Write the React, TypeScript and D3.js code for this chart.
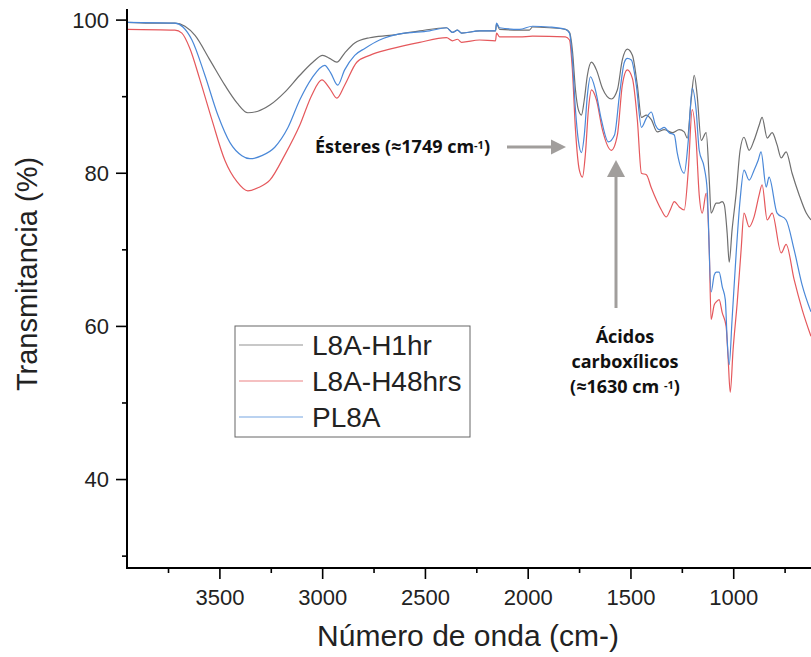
import React from "react";
import * as d3 from "d3";

// ---------- data (wavenumber cm-1, transmittance %) ----------
const L8A_H1hr: [number, number][] = [
  [3952, 99.7], [3840, 99.6], [3719, 99.6], [3670, 99.2], [3621, 98.0], [3549, 94.8], [3476, 91.5], [3417, 89.2],
  [3364, 87.9], [3315, 88.1], [3257, 88.9], [3184, 90.6], [3111, 92.8], [3048, 94.5], [3000, 95.4], [2966, 95.0],
  [2931, 94.5], [2893, 95.7], [2844, 97.0], [2771, 97.7], [2674, 98.0], [2528, 98.6], [2397, 99.0], [2368, 98.4],
  [2344, 98.7], [2324, 98.3], [2237, 98.6], [2159, 98.6], [2154, 99.5], [2139, 98.8], [2042, 98.7], [1994, 98.7],
  [1979, 99.1], [1897, 99.0], [1819, 98.8], [1799, 98.4], [1785, 96.1], [1770, 90.9], [1756, 88.3], [1741, 87.6],
  [1727, 89.6], [1712, 92.8], [1692, 94.5], [1668, 93.5], [1639, 91.1], [1595, 89.7], [1566, 90.9], [1542, 94.8],
  [1518, 96.2], [1493, 95.4], [1469, 91.5], [1449, 87.3], [1425, 87.6], [1401, 87.0], [1372, 85.4], [1338, 85.7],
  [1299, 85.3], [1265, 85.7], [1241, 85.4], [1226, 84.6], [1207, 89.6], [1192, 92.8], [1178, 90.2], [1158, 84.3],
  [1134, 85.3], [1119, 79.1], [1110, 74.8], [1085, 76.1], [1071, 76.1], [1056, 76.3], [1046, 75.9], [1032, 72.2],
  [1022, 68.4], [1008, 72.6], [988, 77.4], [969, 83.0], [950, 84.7], [925, 83.0], [901, 84.3], [876, 86.3],
  [862, 87.3], [837, 84.6], [813, 85.3], [789, 83.7], [769, 82.0], [745, 82.8], [716, 80.0], [682, 77.2],
  [647, 74.8], [624, 73.9],
];

const L8A_H48hrs: [number, number][] = [
  [3952, 98.8], [3719, 98.7], [3685, 98.3], [3646, 96.3], [3597, 92.2], [3539, 87.0], [3476, 81.7], [3417, 78.9],
  [3364, 77.7], [3315, 78.1], [3257, 79.1], [3184, 82.4], [3111, 86.3], [3053, 90.2], [3004, 92.2], [2966, 91.1],
  [2931, 89.8], [2893, 91.5], [2834, 94.5], [2771, 95.4], [2674, 96.2], [2528, 97.1], [2397, 97.7], [2368, 97.3],
  [2344, 97.5], [2324, 97.1], [2237, 97.4], [2159, 97.3], [2154, 98.3], [2139, 97.8], [2042, 97.8], [1979, 97.9],
  [1819, 97.8], [1799, 97.4], [1785, 93.5], [1770, 85.7], [1751, 80.4], [1736, 79.5], [1722, 82.4], [1707, 88.3],
  [1692, 90.9], [1668, 89.6], [1639, 85.7], [1595, 83.0], [1566, 85.0], [1542, 91.5], [1518, 93.5], [1493, 92.4],
  [1469, 87.0], [1449, 80.0], [1425, 79.8], [1401, 78.1], [1376, 76.5], [1352, 75.2], [1328, 74.3], [1309, 75.2],
  [1289, 76.3], [1265, 75.6], [1241, 75.2], [1221, 80.4], [1202, 88.3], [1183, 84.3], [1168, 77.2], [1153, 74.8],
  [1134, 77.4], [1119, 70.0], [1110, 60.9], [1095, 62.8], [1085, 63.2], [1071, 63.5], [1056, 61.8], [1037, 60.0],
  [1027, 55.7], [1017, 51.4], [1003, 57.0], [983, 63.1], [964, 70.0], [950, 74.8], [925, 73.0], [901, 74.3],
  [876, 77.2], [862, 78.5], [837, 73.9], [813, 74.8], [769, 69.6], [745, 70.7], [706, 66.1], [667, 62.2],
  [624, 58.7],
];

const PL8A: [number, number][] = [
  [3952, 99.7], [3719, 99.6], [3680, 99.1], [3636, 97.4], [3573, 92.8], [3510, 87.6], [3451, 84.0], [3393, 82.3],
  [3354, 81.9], [3296, 82.3], [3233, 83.4], [3170, 85.9], [3111, 89.6], [3053, 92.4], [2990, 94.1], [2961, 93.1],
  [2927, 91.5], [2893, 93.5], [2844, 95.4], [2795, 96.3], [2723, 97.4], [2625, 98.2], [2480, 98.6], [2397, 99.0],
  [2368, 98.4], [2344, 98.7], [2324, 98.3], [2237, 98.6], [2159, 98.6], [2154, 99.6], [2139, 99.0], [2042, 98.8],
  [1979, 99.2], [1897, 99.1], [1819, 98.8], [1799, 98.3], [1785, 94.8], [1770, 88.3], [1756, 84.3], [1741, 82.7],
  [1727, 85.0], [1712, 90.2], [1697, 92.6], [1673, 90.9], [1644, 87.0], [1610, 84.1], [1580, 85.0], [1556, 90.2],
  [1532, 94.5], [1518, 95.0], [1498, 94.8], [1474, 91.5], [1449, 86.0], [1425, 87.2], [1401, 88.0], [1381, 86.3],
  [1362, 85.7], [1338, 86.0], [1314, 85.3], [1289, 85.0], [1275, 82.7], [1241, 80.0], [1221, 84.3], [1202, 91.1],
  [1183, 88.3], [1168, 83.0], [1144, 80.8], [1129, 77.8], [1110, 64.5], [1095, 66.7], [1085, 67.1], [1071, 67.1],
  [1056, 65.2], [1041, 63.5], [1032, 58.3], [1022, 55.0], [1008, 60.9], [988, 69.6], [969, 76.5], [950, 80.4],
  [925, 79.1], [901, 80.4], [881, 81.7], [867, 82.8], [842, 78.2], [828, 79.5], [789, 74.8], [745, 73.9],
  [706, 70.0], [667, 65.4], [624, 61.9],
];

const seriesNames = ["L8A-H1hr", "L8A-H48hrs", "PL8A"];
const seriesColors = ["#6f6f6f", "#e5585c", "#4a88d8"];
const xMajorTicks = [3500, 3000, 2500, 2000, 1500, 1000];
const xMinorTicks = [3750, 3250, 2750, 2250, 1750, 1250, 750];
const yMajorTicks = [40, 60, 80, 100];
const yMinorTicks = [30, 50, 70, 90];

const W = 811;
const H = 657;
const left = 127;
const right = 811;
const top = 9;
const bottom = 568;

export default function App() {
  const x = d3.scaleLinear().domain([3952, 624]).range([left, right]);
  const y = d3.scaleLinear().domain([28.45, 101.45]).range([bottom, top]);
  const line = d3
    .line<[number, number]>()
    .x((d) => x(d[0]))
    .y((d) => y(d[1]))
    .curve(d3.curveMonotoneX);

  const allSeries = [L8A_H1hr, L8A_H48hrs, PL8A];
  const axisFont = "'Liberation Sans', Arial, sans-serif";
  const annFont = "'Open Sans', sans-serif";
  const arrowColor = "#a19e9c";

  const legendRows = [345, 381, 417];

  return (
    <svg
      width={W}
      height={H}
      viewBox={`0 0 ${W} ${H}`}
      style={{ position: "absolute", left: 0, top: 0, background: "#fff" }}
    >
      <defs>
        <clipPath id="plotClip">
          <rect x={left} y={0} width={right - left} height={bottom} />
        </clipPath>
      </defs>
      <rect x={0} y={0} width={W} height={H} fill="#fff" />

      {/* series */}
      <g clipPath="url(#plotClip)" fill="none">
        {allSeries.map((s, i) => (
          <path key={i} d={line(s) || ""} stroke={seriesColors[i]} strokeWidth={1.2} strokeLinejoin="round" />
        ))}
      </g>

      {/* axes */}
      <g stroke="#000" fill="none">
        <line x1={left} y1={top} x2={left} y2={bottom + 1} strokeWidth={2} />
        <line x1={left - 1} y1={bottom} x2={right} y2={bottom} strokeWidth={2} />
        {yMajorTicks.map((t) => (
          <line key={"ym" + t} x1={left - 11} x2={left} y1={y(t)} y2={y(t)} strokeWidth={1.6} />
        ))}
        {yMinorTicks.map((t) => (
          <line key={"yn" + t} x1={left - 5} x2={left} y1={y(t)} y2={y(t)} strokeWidth={1.6} />
        ))}
        {xMajorTicks.map((t) => (
          <line key={"xm" + t} x1={x(t)} x2={x(t)} y1={bottom} y2={bottom + 11} strokeWidth={1.6} />
        ))}
        {xMinorTicks.map((t) => (
          <line key={"xn" + t} x1={x(t)} x2={x(t)} y1={bottom} y2={bottom + 5} strokeWidth={1.6} />
        ))}
      </g>
      <g fontFamily={axisFont} fontSize={22} fill="#222">
        {yMajorTicks.map((t) => (
          <text key={"yl" + t} x={left - 18} y={y(t)} dy="0.36em" textAnchor="end">
            {t}
          </text>
        ))}
        {xMajorTicks.map((t) => (
          <text key={"xl" + t} x={x(t)} y={bottom + 37} textAnchor="middle">
            {t}
          </text>
        ))}
      </g>
      <text
        x={468}
        y={646}
        textAnchor="middle"
        fontFamily={axisFont}
        fontSize={30}
        fill="#222"
      >
        Número de onda (cm-)
      </text>
      <text
        transform="translate(37,274) rotate(-90)"
        textAnchor="middle"
        fontFamily={axisFont}
        fontSize={29}
        fill="#222"
      >
        Transmitancia (%)
      </text>

      {/* legend */}
      <rect x={235} y={326} width={235} height={111} fill="#fff" stroke="#666" strokeWidth={1} />
      {seriesNames.map((n, i) => (
        <g key={n}>
          <line x1={239} x2={303} y1={legendRows[i]} y2={legendRows[i]} stroke={seriesColors[i]} strokeWidth={1.2} opacity={0.75} />
          <text x={312} y={legendRows[i]} dy="0.36em" fontFamily={axisFont} fontSize={28} fill="#222">
            {n}
          </text>
        </g>
      ))}

      {/* annotations */}
      <text x={315} y={153} fontFamily={annFont} fontWeight={700} fontSize={18} fill="#111">
        Ésteres (≈1749 cm
        <tspan fontSize={11} dy={-4}>-1</tspan>
        <tspan dy={4}>)</tspan>
      </text>
      <line x1={507} x2={551} y1={147} y2={147} stroke={arrowColor} strokeWidth={3} />
      <path d="M551,139.5 L566,147 L551,154.5 Z" fill={arrowColor} />

      <line x1={616} x2={616} y1={176} y2={308} stroke={arrowColor} strokeWidth={3} />
      <path d="M607,177 L616,160 L625,177 Z" fill={arrowColor} />

      <g fontFamily={annFont} fontWeight={700} fontSize={18} fill="#111" textAnchor="middle">
        <text x={625} y={343}>Ácidos</text>
        <text x={625} y={368}>carboxílicos</text>
        <text x={625} y={393}>
          (≈1630 cm <tspan fontSize={11} dy={-4}>-1</tspan>
          <tspan dy={4}>)</tspan>
        </text>
      </g>
    </svg>
  );
}
